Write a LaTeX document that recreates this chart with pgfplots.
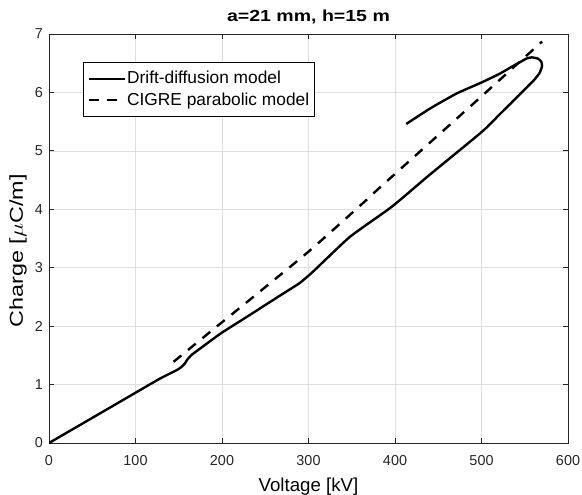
\documentclass[border=0pt]{standalone}
\usepackage{graphicx}
\usepackage{fontspec}
\setmainfont{Liberation Sans}
\usepackage{pgfplots}
\pgfplotsset{compat=1.18}

\definecolor{gridgray}{gray}{0.87}
\definecolor{axgray}{gray}{0.15}

\begin{document}
\begin{tikzpicture}
\begin{axis}[
    scale only axis,
    width=389.25pt, height=306.75pt,
    xmin=0, xmax=600,
    ymin=0, ymax=7,
    xtick={0,100,...,600},
    ytick={0,1,...,7},
    tick pos=both,
    tick align=inside,
    major tick length=3.5pt,
    grid=major,
    major grid style={gridgray, line width=0.5pt},
    axis line style={axgray, line width=0.6pt},
    tick style={axgray, line width=0.6pt},
    /pgf/number format/assume math mode=true,
    tick label style={font=\fontsize{10.8}{13}\selectfont, text=axgray},
    xticklabel style={yshift=-5.5pt},
    yticklabel style={xshift=-1pt},
    title={\scalebox{1.22}[1]{\bfseries a=21 mm, h=15 m}},
    title style={font=\fontsize{12}{14}\selectfont, at={(axis description cs:0.5,1.030)},
        anchor=base, inner sep=0pt, yshift=-6pt},
    xlabel={Voltage [kV]},
    xlabel style={font=\fontsize{14}{16}\selectfont, at={(axis description cs:0.5,-0.086)},
        anchor=north, inner sep=0pt},
    ylabel={\scalebox{1.25}[1]{Charge [$\mu$C/m]}},
    ylabel style={font=\fontsize{14}{16}\selectfont, at={(axis description cs:-0.0424,0.47)},
        anchor=south, inner sep=0pt},
    legend image code/.code={\draw[#1] (0pt,0pt) -- (27pt,0pt);},
    legend cell align=left,
    legend style={at={(axis description cs:0.0655,0.9323)}, anchor=north west,
        draw=black, line width=0.6pt, fill=white,
        font=\fontsize{13}{15}\selectfont,
        inner xsep=3pt, inner ysep=6pt, row sep=3pt,
        nodes={inner sep=1pt}},
]

% drift-diffusion: rising branch, turn near 570 kV, returning branch
\addplot[black, line width=1.8pt, line join=round, smooth, tension=0.3] coordinates {
    (0,0) (50,0.43) (100,0.86) (128,1.10) (148,1.25) (153,1.30)
    (157,1.36) (160,1.43) (165,1.51) (175,1.62) (186,1.74) (200,1.89)
    (232,2.19) (252,2.38) (271,2.56) (290,2.74) (305,2.93) (348,3.53)
    (396,4.04) (440,4.59) (500,5.32) (520,5.61) (541,5.92) (560,6.20)
    (567,6.33) (570,6.45) (569,6.53) (565,6.58) (558,6.60) (552,6.58)
    (546,6.53) (535,6.44) (521,6.32) (500,6.17) (471,5.98) (440,5.72)
    (413,5.46)
};
\addlegendentry{Drift-diffusion model}

% CIGRE parabolic model
\addplot[black, line width=1.8pt, dash pattern=on 7.5pt off 6.5pt, smooth, tension=0.3] coordinates {
    (144,1.39) (182,1.85) (232,2.45) (302,3.30) (367,4.16)
    (383,4.38) (487,5.76) (570,6.87)
};
\addlegendentry{CIGRE parabolic model}

\coordinate (bl) at (rel axis cs:0,0);
\coordinate (tr) at (rel axis cs:1,1);
\end{axis}
\pgfresetboundingbox
\path[use as bounding box] ([shift={(-36.75pt,-38.25pt)}]bl) rectangle ([shift={(10.5pt,25.5pt)}]tr);
\end{tikzpicture}
\end{document}
